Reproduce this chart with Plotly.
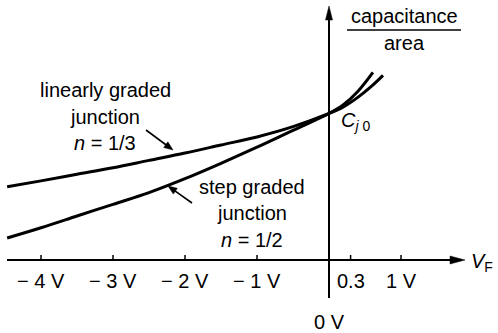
import math
import plotly.graph_objects as go

# Forward voltage (V) and normalised junction capacitance C / Cj0
v_linear = [-4.47, -4.0, -3.5, -3.0, -2.5, -2.0, -1.5, -1.0, -0.5, 0.0, 0.2, 0.4, 0.6, 0.75]
c_linear = [0.50, 0.54, 0.585, 0.63, 0.68, 0.73, 0.785, 0.84, 0.91, 1.0, 1.045, 1.11, 1.19, 1.26]

v_step = [-4.47, -4.0, -3.5, -3.0, -2.5, -2.0, -1.5, -1.0, -0.5, 0.0, 0.2, 0.4, 0.61]
c_step = [0.15, 0.22, 0.30, 0.38, 0.46, 0.555, 0.66, 0.77, 0.885, 1.0, 1.06, 1.15, 1.28]

tick_values = [-4, -3, -2, -1, 0.3, 1]
tick_labels = ["\u2212 4 V", "\u2212 3 V", "\u2212 2 V", "\u2212 1 V", "0.3", "1 V"]

# canvas geometry
W, H = 498, 333
X0, SX = 329, 72.0     # pixel of V = 0, pixels per volt
Y0, SY = 260, 146.5    # pixel of C = 0, pixels per Cj0


def vx(px):
    return (px - X0) / SX


def cy(py):
    return (Y0 - py) / SY


FONT = "Liberation Sans, Arial, Helvetica, sans-serif"
INK = "black"
FS = 20

fig = go.Figure()
for v, c in ((v_linear, c_linear), (v_step, c_step)):
    fig.add_trace(go.Scatter(x=v, y=c, mode="lines",
                             line=dict(color=INK, width=3, shape="spline", smoothing=1.0),
                             hoverinfo="skip", showlegend=False))

shapes = []


def arrow(tail, tip, width, head_len, head_half):
    """Straight pointer with a filled triangular head, given in canvas pixels."""
    dx, dy = tip[0] - tail[0], tip[1] - tail[1]
    d = math.hypot(dx, dy)
    ux, uy = dx / d, dy / d
    bx, by = tip[0] - ux * head_len, tip[1] - uy * head_len
    shapes.append(dict(type="line", xref="x", yref="y",
                       x0=vx(tail[0]), y0=cy(tail[1]), x1=vx(bx + ux), y1=cy(by + uy),
                       line=dict(color=INK, width=width)))
    p1 = (bx - uy * head_half, by + ux * head_half)
    p2 = (bx + uy * head_half, by - ux * head_half)
    shapes.append(dict(type="path", xref="x", yref="y",
                       path=(f"M {vx(tip[0])},{cy(tip[1])} L {vx(p1[0])},{cy(p1[1])} "
                             f"L {vx(p2[0])},{cy(p2[1])} Z"),
                       fillcolor=INK, line=dict(color=INK, width=0.5)))


# horizontal (V_F) and vertical (capacitance) axes with arrow heads
arrow((7, Y0), (465, Y0), 2, 15, 4)
arrow((X0, 298), (X0, 6), 2, 14, 3.5)

# tick marks above the axis
for t in tick_values:
    shapes.append(dict(type="line", xref="x", yref="y", x0=t, x1=t, y0=0, y1=cy(Y0 - 5),
                       line=dict(color=INK, width=1.5)))
# fraction bar of the y-axis title
shapes.append(dict(type="line", xref="x", yref="y", x0=vx(347), x1=vx(461), y0=cy(30), y1=cy(30),
                   line=dict(color=INK, width=1.5)))

# pointers to the two curves
arrow((146, 130), (173, 150), 1.6, 9, 3.5)
arrow((192, 203), (168, 186), 1.6, 9, 3.5)

ann = []
for t, lab in zip(tick_values, tick_labels):
    ann.append(dict(x=t, y=cy(281), text=lab, xanchor="center", yanchor="middle"))
ann.append(dict(x=0, y=cy(322), text="0 V", xanchor="center", yanchor="middle"))
ann.append(dict(x=vx(404), y=cy(16), text="capacitance", xanchor="center", yanchor="middle"))
ann.append(dict(x=vx(404), y=cy(43), text="area", xanchor="center", yanchor="middle"))
ann.append(dict(x=vx(339), y=cy(121), text="<i>C</i><sub><i>j</i> 0</sub>",
                xanchor="left", yanchor="middle"))
ann.append(dict(x=vx(469), y=cy(262), text="<i>V</i><sub>F</sub>",
                xanchor="left", yanchor="middle"))

for py, txt in ((90, "linearly graded"), (117, "junction"), (143, "<i>n</i> = 1/3")):
    ann.append(dict(x=vx(105), y=cy(py), text=txt, xanchor="center", yanchor="middle"))
for py, txt in ((187, "step graded"), (213, "junction"), (240, "<i>n</i> = 1/2")):
    ann.append(dict(x=vx(252), y=cy(py), text=txt, xanchor="center", yanchor="middle"))

for a in ann:
    a.update(xref="x", yref="y", showarrow=False, font=dict(family=FONT, size=FS, color=INK))

fig.update_layout(
    width=W, height=H,
    margin=dict(l=0, r=0, t=0, b=0),
    paper_bgcolor="white", plot_bgcolor="white",
    xaxis=dict(range=[vx(0), vx(W)], visible=False, fixedrange=True),
    yaxis=dict(range=[cy(H), cy(0)], visible=False, fixedrange=True),
    shapes=shapes, annotations=ann,
)

fig.write_html("out.html")
